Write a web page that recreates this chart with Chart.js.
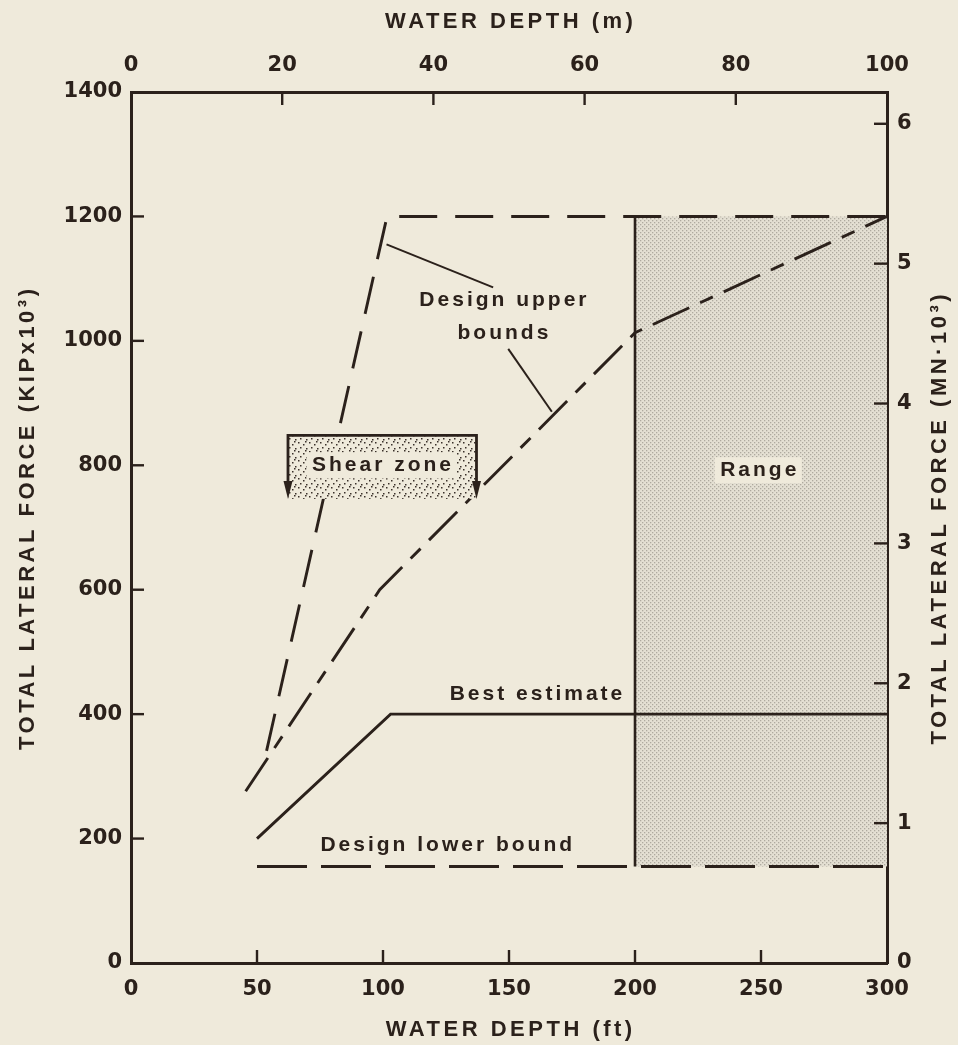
<!DOCTYPE html>
<html>
<head>
<meta charset="utf-8">
<script src="https://cdn.jsdelivr.net/npm/chart.js@4.4.1/dist/chart.umd.min.js"></script>
<style>
	html, body { margin: 0; padding: 0; background: #efeadb; }
	#wrap { width: 958px; height: 1045px; }
</style>
</head>
<body>
<div id="wrap"><canvas id="myChart" width="958" height="1045"></canvas></div>
<script>
const INK = "#2b211b";
const PAPER = "#efeadb";
const KIP_TO_MN = 4.448 / 1000; // KIP x10^3 -> MN x10^3

// tick labels
const depthFtTicks = [0, 50, 100, 150, 200, 250, 300];
const depthMTicks = [0, 20, 40, 60, 80, 100];
const forceKipTicks = [0, 200, 400, 600, 800, 1000, 1200, 1400];
const forceMnTicks = [0, 1, 2, 3, 4, 5, 6];

// curves, depth in ft, force in KIP x10^3
const bestDepth = [50, 103, 300];
const bestForce = [200, 400, 400];
const upperDepth = [45.5, 98.7, 200, 300];
const upperForce = [276, 600, 1013, 1200];
const steepDepth = [53.8, 101.6, 300];
const steepForce = [341, 1200, 1200];
const lowerDepth = [50, 300];
const lowerForce = [155, 155];
const rangeDepth = [200, 300];
const rangeForce = [155, 1200];   // bottom, top
const shearDepth = [62.3, 137.1];
const shearForce = [746, 848];    // bottom, top

// annotation texts (depth ft, force KIP)
const notes = [
	{ text: "Design upper", x: 147.6, y: 1066 },
	{ text: "bounds", x: 147.6, y: 1013 },
	{ text: "Best estimate", x: 160.7, y: 432 },
	{ text: "Design lower bound", x: 125.1, y: 189 },
	{ text: "Range", x: 248.9, y: 792, box: true },
	{ text: "Shear zone", x: 99.4, y: 800, box: true }
];
const leaders = [
	[101.4, 1155, 143.7, 1086],
	[149.7, 987, 167, 886]
];

function pts(xs, ys) {
	return xs.map((x, i) => ({ x: x, y: ys[i] }));
}

function makePattern(w, h, bg, dot, dots, size) {
	let c = document.createElement("canvas");
	c.width = w; c.height = h;
	let cx = c.getContext("2d");
	cx.fillStyle = bg;
	cx.fillRect(0, 0, w, h);
	cx.fillStyle = dot;
	dots.forEach(d => cx.fillRect(d[0], d[1], size, size));
	return cx.createPattern(c, "repeat");
}

const rangePattern = makePattern(4, 4, "#e4e0d3", "#aeaa9f", [[0, 0], [2, 2]], 1.3);
const shearPattern = makePattern(11, 9, PAPER, "#3a302a",
	[[1, 1], [6, 3], [9, 7], [3, 6], [8, 0]], 1.5);

function txt(ctx, s, x, y, font, spacing, rot) {
	ctx.save();
	ctx.translate(x, y);
	if (rot) ctx.rotate(rot);
	ctx.font = font;
	ctx.letterSpacing = spacing + "px";
	ctx.textAlign = "center";
	ctx.textBaseline = "middle";
	ctx.fillStyle = INK;
	ctx.fillText(s, spacing / 2, 0);
	ctx.restore();
}

const NOTE_FONT = "bold 21px 'Liberation Sans', Arial, sans-serif";
const TITLE_FONT = "bold 22px 'Liberation Sans', Arial, sans-serif";

const drawing = {
	id: "drawing",
	beforeDraw(chart) {
		let ctx = chart.ctx;
		ctx.save();
		ctx.fillStyle = PAPER;
		ctx.fillRect(0, 0, chart.width, chart.height);
		ctx.restore();
	},
	afterDatasetsDraw(chart) {
		let ctx = chart.ctx;
		let sx = chart.scales.x, sy = chart.scales.y;
		let X = v => sx.getPixelForValue(v), Y = v => sy.getPixelForValue(v);

		// shear zone box
		let l = X(shearDepth[0]), r = X(shearDepth[1]);
		let t = Y(shearForce[1]), b = Y(shearForce[0]);
		ctx.save();
		ctx.fillStyle = shearPattern;
		ctx.fillRect(l, t, r - l, b - t);
		ctx.strokeStyle = INK;
		ctx.lineWidth = 2.8;
		ctx.beginPath();
		ctx.moveTo(l, b - 14);
		ctx.lineTo(l, t);
		ctx.lineTo(r, t);
		ctx.lineTo(r, b - 14);
		ctx.stroke();
		ctx.fillStyle = INK;
		[l, r].forEach(px => {
			ctx.beginPath();
			ctx.moveTo(px - 4.5, b - 18);
			ctx.lineTo(px + 4.5, b - 18);
			ctx.lineTo(px, b);
			ctx.closePath();
			ctx.fill();
		});

		// leader lines
		ctx.lineWidth = 2;
		leaders.forEach(p => {
			ctx.beginPath();
			ctx.moveTo(X(p[0]), Y(p[1]));
			ctx.lineTo(X(p[2]), Y(p[3]));
			ctx.stroke();
		});

		// texts
		ctx.font = NOTE_FONT;
		ctx.letterSpacing = "3px";
		notes.forEach(n => {
			let x = X(n.x), y = Y(n.y);
			if (n.box) {
				let w = ctx.measureText(n.text).width;
				ctx.fillStyle = PAPER;
				ctx.fillRect(x - w / 2 - 4, y - 13, w + 8, 26);
			}
			txt(ctx, n.text, x, y, NOTE_FONT, 3);
		});
		ctx.restore();
	},
	afterDraw(chart) {
		let ctx = chart.ctx;
		let a = chart.chartArea;
		ctx.save();
		ctx.strokeStyle = INK;
		ctx.lineWidth = 2.4;
		const LEN = 13;
		let s = chart.scales;
		s.x.ticks.forEach(tk => {
			if (tk.value <= s.x.min || tk.value >= s.x.max) return;
			let p = s.x.getPixelForValue(tk.value);
			ctx.beginPath(); ctx.moveTo(p, a.bottom); ctx.lineTo(p, a.bottom - LEN); ctx.stroke();
		});
		s.x2.ticks.forEach(tk => {
			if (tk.value <= s.x2.min || tk.value >= s.x2.max) return;
			let p = s.x2.getPixelForValue(tk.value);
			ctx.beginPath(); ctx.moveTo(p, a.top); ctx.lineTo(p, a.top + LEN); ctx.stroke();
		});
		s.y.ticks.forEach(tk => {
			if (tk.value <= s.y.min || tk.value >= s.y.max) return;
			let p = s.y.getPixelForValue(tk.value);
			ctx.beginPath(); ctx.moveTo(a.left, p); ctx.lineTo(a.left + LEN, p); ctx.stroke();
		});
		s.y2.ticks.forEach(tk => {
			if (tk.value <= s.y2.min || tk.value >= s.y2.max) return;
			let p = s.y2.getPixelForValue(tk.value);
			ctx.beginPath(); ctx.moveTo(a.right, p); ctx.lineTo(a.right - LEN, p); ctx.stroke();
		});

		// axis titles
		let cx = (a.left + a.right) / 2, cy = (a.top + a.bottom) / 2 - 8;
		txt(ctx, "WATER DEPTH (m)", cx, 22, TITLE_FONT, 3.5);
		txt(ctx, "WATER DEPTH (ft)", cx, 1030, TITLE_FONT, 3.5);
		txt(ctx, "TOTAL LATERAL FORCE (KIPx10\u00B3)", 28, cy, TITLE_FONT, 3.5, -Math.PI / 2);
		txt(ctx, "TOTAL LATERAL FORCE (MN\u00B710\u00B3)", 940, cy, TITLE_FONT, 3.5, -Math.PI / 2);
		ctx.restore();
	}
};

function axis(pos, min, max, list, fit, pad) {
	return {
		type: "linear",
		position: pos,
		min: min,
		max: max,
		afterBuildTicks: sc => { sc.ticks = list.map(v => ({ value: v })); },
		afterFit: fit,
		grid: { display: false, drawTicks: false },
		border: { display: true, width: 3, color: INK },
		ticks: {
			color: INK,
			padding: pad,
			autoSkip: false,
			maxRotation: 0,
			callback: v => String(v),
			font: { family: "'DejaVu Sans', sans-serif", weight: "bold", size: 21 }
		}
	};
}

function line(xs, ys, dash, width) {
	return {
		data: pts(xs, ys),
		borderColor: INK,
		borderWidth: width === undefined ? 2.9 : width,
		borderDash: dash,
		pointRadius: 0,
		fill: false,
		tension: 0,
		xAxisID: "x",
		yAxisID: "y"
	};
}

let rangeTop = line(rangeDepth, [rangeForce[1], rangeForce[1]], [], 0);
rangeTop.fill = { value: rangeForce[0] };
rangeTop.backgroundColor = rangePattern;

new Chart(document.getElementById("myChart"), {
	type: "line",
	data: {
		datasets: [
			line(bestDepth, bestForce, []),
			line(upperDepth, upperForce, [40, 12, 14, 12]),
			line(steepDepth, steepForce, [38, 18]),
			line(lowerDepth, lowerForce, [50, 14]),
			line([rangeDepth[0], rangeDepth[0]], rangeForce, [], 2.6),
			rangeTop
		]
	},
	options: {
		responsive: false,
		animation: false,
		events: [],
		layout: { padding: 0 },
		plugins: { legend: { display: false }, tooltip: { enabled: false } },
		scales: {
			x: axis("bottom", 0, 300, depthFtTicks, s => { s.height = 82; }, 14),
			x2: axis("top", 0, 100, depthMTicks, s => { s.height = 92; }, 14),
			y: axis("left", 0, 1400, forceKipTicks, s => { s.width = 131; }, 9),
			y2: axis("right", 0, 1400 * KIP_TO_MN, forceMnTicks, s => { s.width = 71; }, 10)
		}
	},
	plugins: [drawing]
});
</script>
</body>
</html>
